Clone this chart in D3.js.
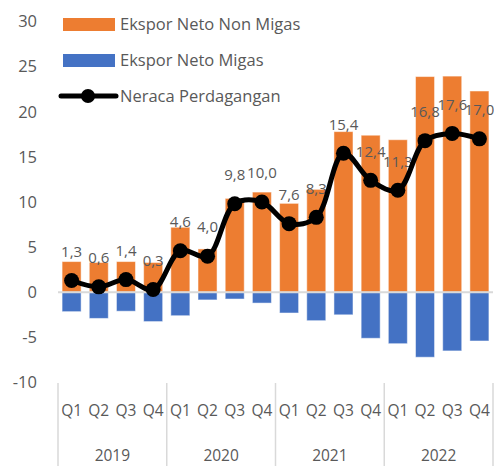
<!DOCTYPE html>
<html><head><meta charset="utf-8">
<script src="https://cdn.jsdelivr.net/npm/d3@7"></script>
<style>body{margin:0;background:#fff}svg{display:block}text{font-family:"Open Sans",sans-serif;fill:#595959}</style>
</head><body><svg id="c" width="494" height="466"></svg>
<script>
const years = ["2019","2020","2021","2022"];
const quarters = ["Q1","Q2","Q3","Q4"];
const nonMigas = [3.4,3.3,3.4,3.3, 7.2,4.8,10.4,11.1, 9.85,11.4,17.8,17.4, 16.9,23.9,23.95,22.3];
const migas = [-2.15,-2.9,-2.1,-3.25, -2.6,-0.85,-0.75,-1.2, -2.3,-3.15,-2.5,-5.1, -5.7,-7.2,-6.5,-5.4];
const neraca = [1.3,0.6,1.4,0.3, 4.6,4.0,9.8,10.0, 7.6,8.3,15.4,12.4, 11.3,16.8,17.6,17.0];
const yTicks = [-10,-5,0,5,10,15,20,25,30];
const seriesNames = ["Ekspor Neto Non Migas","Ekspor Neto Migas","Neraca Perdagangan"];

const cats = [];
years.forEach(y => quarters.forEach(q => cats.push(y + " " + q)));

const svg = d3.select("#c");
const x = d3.scaleBand().domain(cats).range([58, 493]).paddingInner(0.3).paddingOuter(0.15);
const y = d3.scaleLinear().domain([-10, 30]).range([382.5, 21.5]);
const fmt = v => d3.format(".1f")(v).replace(".", ",");

// y tick labels
svg.append("g").selectAll("text").data(yTicks).join("text")
  .attr("x", 37).attr("y", d => y(d)).attr("dy", "0.35em")
  .attr("text-anchor", "end").style("font-size", "16.5px").text(d => d);

// bars
svg.append("g").selectAll("rect").data(nonMigas).join("rect")
  .attr("x", (d, i) => x(cats[i])).attr("width", x.bandwidth())
  .attr("y", d => y(d)).attr("height", d => y(0) - y(d))
  .attr("fill", "#ED7D31").attr("stroke", "#fff").attr("stroke-opacity", 0.5).attr("stroke-width", 1);
svg.append("g").selectAll("rect").data(migas).join("rect")
  .attr("x", (d, i) => x(cats[i])).attr("width", x.bandwidth())
  .attr("y", y(0)).attr("height", d => y(d) - y(0))
  .attr("fill", "#4472C4").attr("stroke", "#fff").attr("stroke-opacity", 0.5).attr("stroke-width", 1);

// zero line
svg.append("line").attr("x1", 58).attr("x2", 493).attr("y1", y(0)).attr("y2", y(0))
  .attr("stroke", "#d9d9d9").attr("stroke-width", 2);

// category axis
const step = x.step();
const axisG = svg.append("g");
axisG.selectAll("text.q").data(cats).join("text").attr("class", "q")
  .attr("x", d => x(d) + x.bandwidth() / 2).attr("y", 411).attr("dy", "0.35em")
  .attr("text-anchor", "middle").style("font-size", "15.5px").text(d => d.split(" ")[1]);
const yearEdges = years.map(yr => x(yr + " Q1") - x.paddingInner() * step / 2);
yearEdges.push(x(years[years.length - 1] + " Q4") + x.bandwidth() + x.paddingInner() * step / 2);
axisG.selectAll("line").data(yearEdges).join("line")
  .attr("x1", d => d).attr("x2", d => d).attr("y1", 383).attr("y2", 466)
  .attr("stroke", "#d9d9d9").attr("stroke-width", 1.5);
axisG.selectAll("text.yr").data(years).join("text").attr("class", "yr")
  .attr("x", (d, i) => (yearEdges[i] + yearEdges[i + 1]) / 2).attr("y", 456).attr("dy", "0.35em")
  .attr("text-anchor", "middle").style("font-size", "15.5px").text(d => d);

// data labels (under the line)
svg.append("g").selectAll("text").data(neraca).join("text")
  .attr("x", (d, i) => x(cats[i]) + x.bandwidth() / 2).attr("y", d => y(d) - 29).attr("dy", "0.35em")
  .attr("text-anchor", "middle").style("font-size", "15px").text(d => fmt(d));

// line
const line = d3.line().x((d, i) => x(cats[i]) + x.bandwidth() / 2).y(d => y(d)).curve(d3.curveCatmullRom.alpha(0.5));
svg.append("path").datum(neraca).attr("d", line).attr("fill", "none").attr("stroke", "#000").attr("stroke-width", 5);
svg.append("g").selectAll("circle").data(neraca).join("circle")
  .attr("cx", (d, i) => x(cats[i]) + x.bandwidth() / 2).attr("cy", d => y(d)).attr("r", 7.5).attr("fill", "#000");

// legend
const lg = svg.append("g");
lg.append("rect").attr("x", 63).attr("y", 18).attr("width", 52).attr("height", 13).attr("fill", "#ED7D31");
lg.append("rect").attr("x", 63).attr("y", 54).attr("width", 52).attr("height", 13).attr("fill", "#4472C4");
lg.append("line").attr("x1", 61).attr("x2", 116).attr("y1", 96).attr("y2", 96).attr("stroke", "#000").attr("stroke-width", 5).attr("stroke-linecap", "round");
lg.append("circle").attr("cx", 88).attr("cy", 96).attr("r", 7).attr("fill", "#000");
lg.selectAll("text").data(seriesNames).join("text")
  .attr("x", 120).attr("y", (d, i) => 24 + i * 36).attr("dy", "0.35em")
  .style("font-size", "16.5px").text(d => d);
</script></body></html>
